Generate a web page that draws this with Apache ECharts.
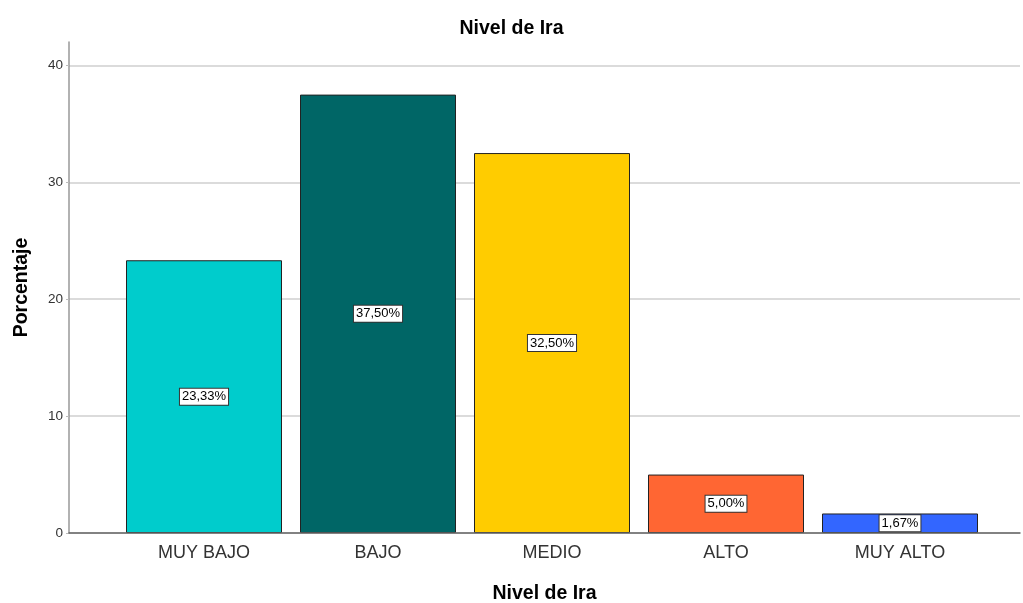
<!DOCTYPE html>
<html>
<head>
<meta charset="utf-8">
<title>Nivel de Ira</title>
<script src="https://cdn.jsdelivr.net/npm/echarts@6/dist/echarts.min.js"></script>
<style>
  html, body { margin: 0; padding: 0; background: #fff; }
  #chart { width: 1023px; height: 603px; }
</style>
</head>
<body>
<div id="chart"></div>
<script>
// datos
const categorias = ['MUY BAJO', 'BAJO', 'MEDIO', 'ALTO', 'MUY ALTO'];
const porcentajes = [23.33, 37.50, 32.50, 5.00, 1.67];
const colores = ['#00cccc', '#006666', '#ffcc00', '#ff6633', '#3366ff'];
const yMaxEje = 42;   // el eje llega un poco mas arriba del 40
const yMaxTicks = 40;
const yPaso = 10;

const chart = echarts.init(document.getElementById('chart'));
const fuente = '"Liberation Sans", Arial, sans-serif';

// misma escala en los tres grids: la base en y=533, 42 en y=42
const base = 533, arriba = 42;
const topTicks = base - yMaxTicks * (base - arriba) / yMaxEje;

const nombreEstilo = { fontSize: 19.5, fontWeight: 'bold', color: '#000', fontFamily: fuente };

const option = {
  animation: false,
  textStyle: { fontFamily: fuente },
  title: {
    text: 'Nivel de Ira',
    left: 'center',
    top: 14,
    textStyle: nombreEstilo
  },
  grid: [
    // marco: ejes
    { left: 69, right: 3, top: arriba, bottom: 603 - base, outerBoundsMode: 'none' },
    // lineas de cuadricula y etiquetas
    { left: 69, right: 3, top: topTicks, bottom: 603 - base, outerBoundsMode: 'none' },
    // barras
    { left: 117, right: 36, top: arriba, bottom: 603 - base, outerBoundsMode: 'none' }
  ],
  xAxis: [
    {
      gridIndex: 0,
      type: 'category',
      data: [''],
      z: 5,
      axisLine: { onZero: false, lineStyle: { color: '#666', width: 1.5 } },
      axisTick: { show: false },
      axisLabel: { show: false },
      name: 'Nivel de Ira',
      nameLocation: 'middle',
      nameGap: 51,
      nameTextStyle: nombreEstilo
    },
    {
      gridIndex: 1,
      type: 'category',
      data: [''],
      show: false
    },
    {
      gridIndex: 2,
      type: 'category',
      data: categorias,
      axisLine: { show: false },
      axisTick: { show: false },
      axisLabel: { fontSize: 18, color: '#333', margin: 11 }
    }
  ],
  yAxis: [
    {
      gridIndex: 0,
      type: 'value',
      min: 0,
      max: yMaxEje,
      axisLine: { show: true, onZero: false, lineStyle: { color: '#999', width: 1.5 } },
      axisTick: { show: false },
      axisLabel: { show: false },
      splitLine: { show: false },
      name: 'Porcentaje',
      nameLocation: 'middle',
      nameGap: 37,
      nameTextStyle: nombreEstilo
    },
    {
      gridIndex: 1,
      type: 'value',
      min: 0,
      max: yMaxTicks,
      interval: yPaso,
      axisLine: { show: false },
      axisTick: { show: true, length: 3, lineStyle: { color: '#bbb' } },
      axisLabel: { fontSize: 13.5, color: '#333', margin: 6 },
      splitLine: { show: true, lineStyle: { color: '#cfcfcf', width: 1.5 } }
    },
    {
      gridIndex: 2,
      type: 'value',
      min: 0,
      max: yMaxEje,
      show: false,
      splitLine: { show: false }
    }
  ],
  series: [{
    type: 'bar',
    xAxisIndex: 2,
    yAxisIndex: 2,
    barWidth: 156,
    data: porcentajes.map((v, i) => ({
      value: v,
      itemStyle: { color: colores[i] }
    })),
    itemStyle: { borderColor: '#222', borderWidth: 1 },
    label: {
      show: true,
      position: 'inside',
      formatter: p => p.value.toFixed(2).replace('.', ',') + '%',
      fontSize: 13,
      color: '#000',
      backgroundColor: '#fff',
      borderColor: '#333',
      borderWidth: 1,
      padding: [2, 2, 1, 2]
    }
  }]
};

chart.setOption(option);
</script>
</body>
</html>
